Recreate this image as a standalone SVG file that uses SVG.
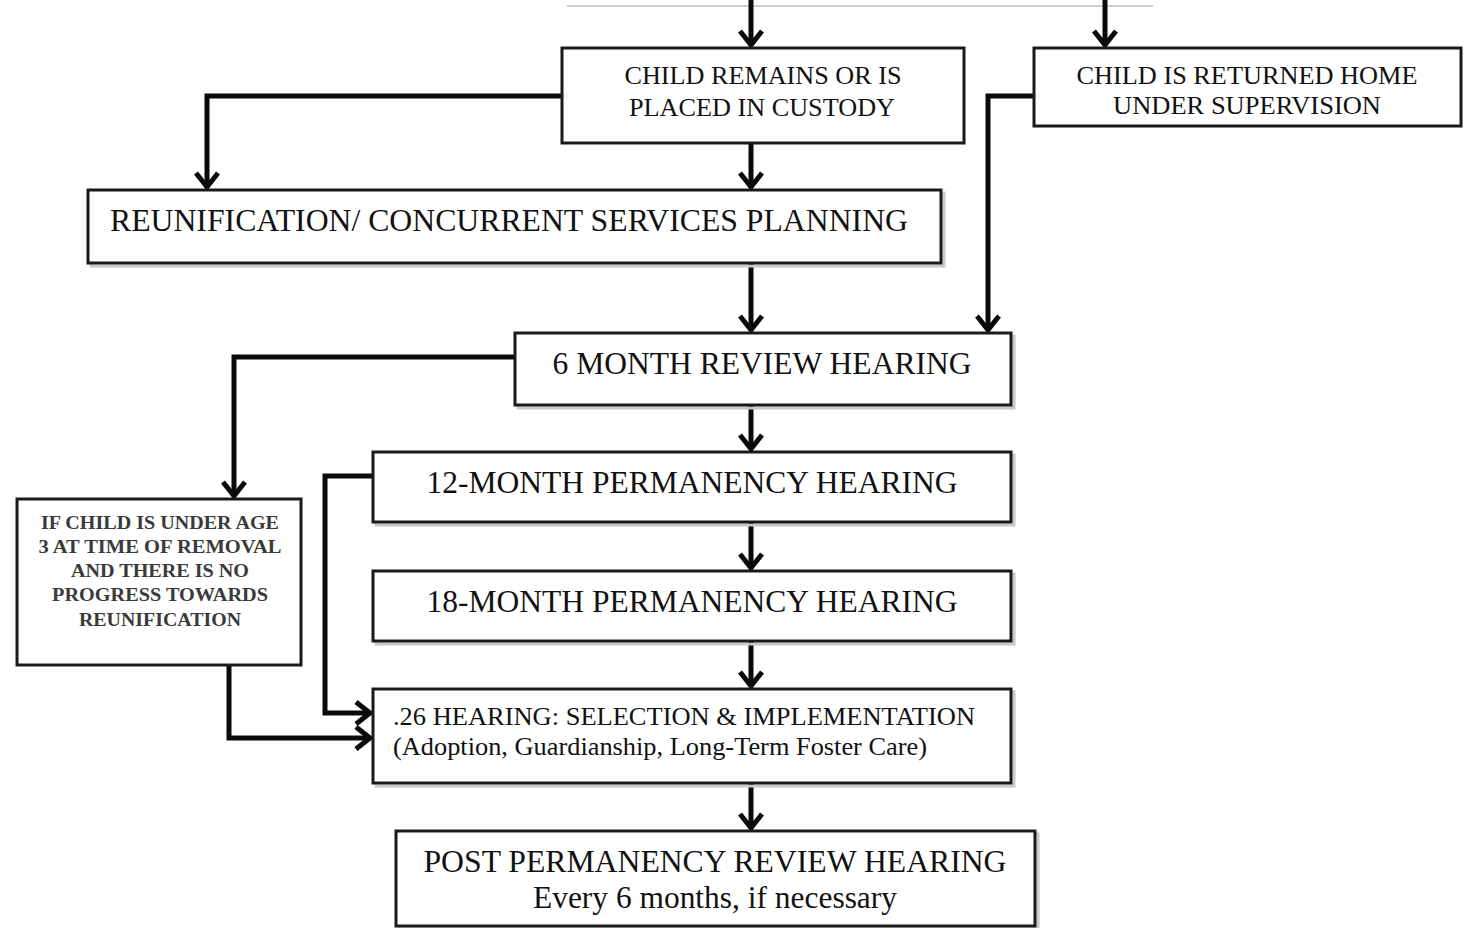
<svg xmlns="http://www.w3.org/2000/svg" width="1468" height="928" viewBox="0 0 1468 928">
<style>
.box{fill:#fff;stroke:#1a1a1a;stroke-width:3}
.sh{fill:none;stroke:#c8c8c8;stroke-width:3}
.t{font-family:"Liberation Serif","Times New Roman",serif;fill:#111;text-anchor:middle}
.tl{font-family:"Liberation Serif","Times New Roman",serif;fill:#111}
.ts{font-family:"Liberation Serif","Times New Roman",serif;fill:#3a3a3a;font-weight:bold;text-anchor:middle;font-size:19px}
.c{fill:none;stroke:#0a0a0a;stroke-width:5;stroke-linejoin:miter}
</style>
<defs>
<marker id="ah" markerUnits="userSpaceOnUse" viewBox="-14 -12 16 24" refX="0" refY="0" markerWidth="16" markerHeight="24" orient="auto" overflow="visible">
<path d="M-14,-11 L0,0 L-14,11" fill="none" stroke="#0a0a0a" stroke-width="5"/>
</marker>
</defs>
<rect width="1468" height="928" fill="#fff"/>
<line x1="567" y1="6" x2="1153" y2="6" stroke="#cfcfcf" stroke-width="2"/>

<g id="connectors">
<path class="c" d="M751,0 V45" marker-end="url(#ah)"/>
<path class="c" d="M1105,0 V45" marker-end="url(#ah)"/>
<path class="c" d="M562,96 H207 V187" marker-end="url(#ah)"/>
<path class="c" d="M751,143 V187" marker-end="url(#ah)"/>
<path class="c" d="M1034,96 H988 V330" marker-end="url(#ah)"/>
<path class="c" d="M751,263 V330" marker-end="url(#ah)"/>
<path class="c" d="M515,357 H234 V496" marker-end="url(#ah)"/>
<path class="c" d="M751,405 V449" marker-end="url(#ah)"/>
<path class="c" d="M373,476 H325 V713 H370" marker-end="url(#ah)"/>
<path class="c" d="M751,522 V568" marker-end="url(#ah)"/>
<path class="c" d="M751,641 V686" marker-end="url(#ah)"/>
<path class="c" d="M229,665 V738 H370" marker-end="url(#ah)"/>
<path class="c" d="M751,783 V828" marker-end="url(#ah)"/>
</g>

<g id="custody">
<rect class="box" x="562" y="48" width="402" height="95"/>
<text class="t" x="763" y="84" font-size="26" textLength="277" lengthAdjust="spacingAndGlyphs">CHILD REMAINS OR IS</text>
<text class="t" x="762" y="116" font-size="26" textLength="266" lengthAdjust="spacingAndGlyphs">PLACED IN CUSTODY</text>
</g>

<g id="returned-home">
<rect class="box" x="1034" y="48" width="427" height="78"/>
<text class="t" x="1247" y="84" font-size="26" textLength="341" lengthAdjust="spacingAndGlyphs">CHILD IS RETURNED HOME</text>
<text class="t" x="1247" y="114" font-size="26" textLength="268" lengthAdjust="spacingAndGlyphs">UNDER SUPERVISION</text>
</g>

<g id="reunification">
<rect class="sh" x="91" y="193" width="853" height="73"/>
<rect class="box" x="88" y="190" width="853" height="73"/>
<text class="t" x="509" y="231" font-size="31" textLength="798" lengthAdjust="spacingAndGlyphs">REUNIFICATION/ CONCURRENT SERVICES PLANNING</text>
</g>

<g id="six-month">
<rect class="sh" x="518" y="336" width="496" height="72"/>
<rect class="box" x="515" y="333" width="496" height="72"/>
<text class="t" x="762" y="374" font-size="32" textLength="419" lengthAdjust="spacingAndGlyphs">6 MONTH REVIEW HEARING</text>
</g>

<g id="twelve-month">
<rect class="sh" x="376" y="455" width="638" height="70"/>
<rect class="box" x="373" y="452" width="638" height="70"/>
<text class="t" x="692" y="493" font-size="31" textLength="531" lengthAdjust="spacingAndGlyphs">12-MONTH PERMANENCY HEARING</text>
</g>

<g id="eighteen-month">
<rect class="sh" x="376" y="574" width="638" height="70"/>
<rect class="box" x="373" y="571" width="638" height="70"/>
<text class="t" x="692" y="612" font-size="31" textLength="531" lengthAdjust="spacingAndGlyphs">18-MONTH PERMANENCY HEARING</text>
</g>

<g id="under-three">
<rect class="box" x="17" y="499" width="284" height="166"/>
<text class="ts" x="160" y="529" textLength="238" lengthAdjust="spacingAndGlyphs">IF CHILD IS UNDER AGE</text>
<text class="ts" x="160" y="553" textLength="243" lengthAdjust="spacingAndGlyphs">3 AT TIME OF REMOVAL</text>
<text class="ts" x="160" y="577" textLength="178" lengthAdjust="spacingAndGlyphs">AND THERE IS NO</text>
<text class="ts" x="160" y="601" textLength="216" lengthAdjust="spacingAndGlyphs">PROGRESS TOWARDS</text>
<text class="ts" x="160" y="626" textLength="162" lengthAdjust="spacingAndGlyphs">REUNIFICATION</text>
</g>

<g id="hearing-26">
<rect class="sh" x="376" y="692" width="638" height="94"/>
<rect class="box" x="373" y="689" width="638" height="94"/>
<text class="tl" x="393" y="725" font-size="26" textLength="582" lengthAdjust="spacingAndGlyphs">.26 HEARING: SELECTION &amp; IMPLEMENTATION</text>
<text class="tl" x="393" y="755" font-size="26" textLength="534" lengthAdjust="spacingAndGlyphs">(Adoption, Guardianship, Long-Term Foster Care)</text>
</g>

<g id="post-permanency">
<rect class="sh" x="399" y="834" width="639" height="95"/>
<rect class="box" x="396" y="831" width="639" height="95"/>
<text class="t" x="715" y="872" font-size="31" textLength="583" lengthAdjust="spacingAndGlyphs">POST PERMANENCY REVIEW HEARING</text>
<text class="t" x="715" y="908" font-size="31" textLength="364" lengthAdjust="spacingAndGlyphs">Every 6 months, if necessary</text>
</g>
</svg>
